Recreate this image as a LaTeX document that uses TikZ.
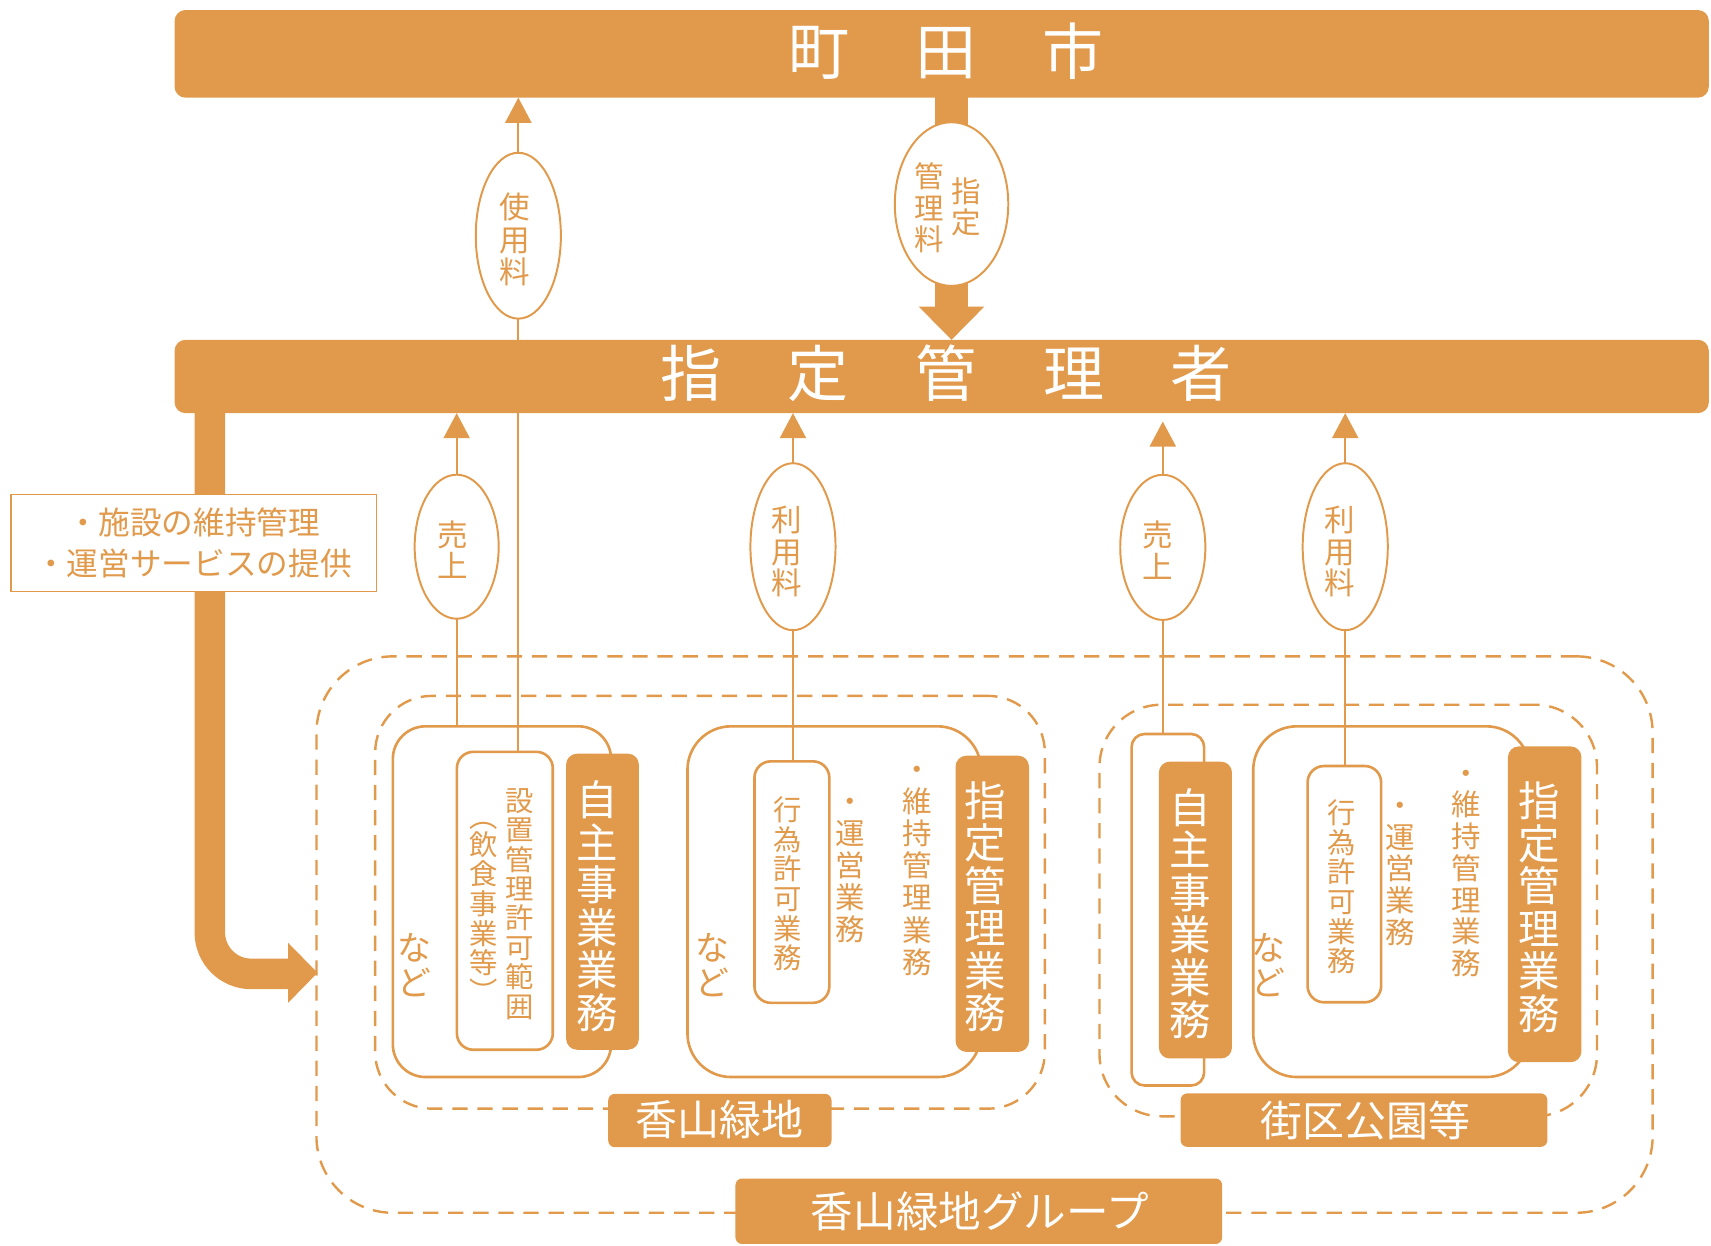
\documentclass[tikz,border=0pt]{standalone}
\usepackage{fontspec}
\setmainfont{Noto Sans CJK JP}
\usetikzlibrary{arrows.meta,shapes.geometric}
\definecolor{orng}{RGB}{225,154,75}
\newcommand\setfs[2]{\fontsize{#1}{#2}\selectfont}
\makeatletter
\def\vt@stop{\vt@stop}
\newcommand\VT[2]{\vbox{\baselineskip=#1\relax\lineskiplimit=-\maxdimen\lineskip=0pt\relax\vt@loop#2\vt@stop}}
\def\vt@loop#1{\ifx#1\vt@stop\else\hbox to 1em{\hss\raisebox{0pt}[0.88em][0.12em]{#1}\hss}\expandafter\vt@loop\fi}
\makeatother
\begin{document}
\begin{tikzpicture}[x=1pt,y=-1pt,
  barbox/.style={fill=orng, rounded corners=10pt, inner sep=0pt, outer sep=0pt},
  dbox/.style={draw=orng, line width=2.2pt, dash pattern=on 14pt off 9pt, inner sep=0pt, outer sep=0pt},
  sbox/.style={draw=orng, line width=2.4pt, fill=white, inner sep=0pt, outer sep=0pt},
  obox/.style={fill=orng, rounded corners=10pt, inner sep=0pt, outer sep=0pt},
  lbox/.style={fill=orng, rounded corners=6pt, inner sep=0pt, outer sep=0pt},
  oval/.style={ellipse, draw=orng, line width=1.8pt, fill=white, inner sep=0pt, outer sep=0pt},
  otxt/.style={text=orng, inner sep=0pt},
  wtxt/.style={text=white, inner sep=0pt},
  conn/.style={draw=orng, line width=1.6pt},
  uptip/.style={-{Triangle[width=24pt,length=23pt]}},
]
\useasboundingbox (0,0) rectangle (1568,1141);

% dashed group boxes
\node[dbox, rounded corners=70pt, minimum width=1224.5pt, minimum height=509.9pt] (grp) at (902.25,856.45) {};
\node[dbox, rounded corners=52pt, minimum width=613.7pt, minimum height=378.3pt] (kayama) at (650.65,826.85) {};
\node[dbox, rounded corners=57pt, minimum width=455.9pt, minimum height=377.2pt] (gaiku) at (1235.55,834.4) {};

% bars
\node[barbox, minimum width=1406pt, minimum height=80.3pt] (city) at (863,49.35) {};
\node[barbox, minimum width=1406pt, minimum height=67.2pt] (mgr) at (863,345) {};
\node[wtxt, font=\setfs{56}{56}] (cityT) at (867,47) {町\hskip60.5pt 田\hskip60.5pt 市};
\node[wtxt, font=\setfs{56}{56}] (mgrT) at (867,342) {指\hskip61pt 定\hskip61pt 管\hskip61pt 理\hskip61pt 者};

% outer solid boxes
\node[sbox, rounded corners=30pt, minimum width=200pt, minimum height=321.4pt] (jishu1) at (460,826.3) {};
\node[sbox, rounded corners=40pt, minimum width=269pt, minimum height=321.4pt] (shitei1) at (764.5,826.3) {};
\node[sbox, rounded corners=12pt, minimum width=66.5pt, minimum height=322.2pt] (jishu2) at (1070.25,833.7) {};
\node[sbox, rounded corners=40pt, minimum width=253.5pt, minimum height=321.4pt] (shitei2) at (1275.25,826.3) {};

% inner boxes
\node[sbox, rounded corners=15pt, minimum width=87.9pt, minimum height=273pt] (secchi) at (462.65,825.5) {};
\node[sbox, rounded corners=15pt, minimum width=68.6pt, minimum height=221.3pt] (koui1) at (725.7,808.35) {};
\node[sbox, rounded corners=15pt, minimum width=67.4pt, minimum height=216.5pt] (koui2) at (1232,810.25) {};

% orange boxes
\node[obox, minimum width=66.7pt, minimum height=271.3pt] (oj1) at (552.15,826.35) {};
\node[obox, minimum width=67.3pt, minimum height=271.5pt] (os1) at (909.35,828.25) {};
\node[obox, minimum width=67pt, minimum height=272pt] (oj2) at (1095.5,834) {};
\node[obox, minimum width=67.4pt, minimum height=289.4pt] (os2) at (1415.6,828.7) {};

% labels
\node[lbox, minimum width=204.6pt, minimum height=48.9pt] (lk) at (659.7,1026.85) {};
\node[lbox, minimum width=336pt, minimum height=49pt] (lg) at (1250,1026.5) {};
\node[lbox, minimum width=446pt, minimum height=60pt] (lgrp) at (897,1110) {};
\node[wtxt, font=\setfs{38.5}{38.5}] (lkT) at (659.3,1026) {香山緑地};
\node[wtxt, font=\setfs{38.5}{38.5}] (lgT) at (1251,1026.5) {街区公園等};
\node[wtxt, font=\setfs{39}{39}] (lgrpT) at (898,1110.5) {香山緑地グループ};

% ellipses
\node[oval, minimum width=78pt, minimum height=152pt] (e_shiyou) at (475,216) {};
\node[oval, minimum width=77pt, minimum height=132pt] (e_uri1) at (418.5,501) {};
\node[oval, minimum width=78pt, minimum height=153pt] (e_riyo1) at (726.7,501) {};
\node[oval, minimum width=78pt, minimum height=133pt] (e_uri2) at (1065.6,501.6) {};
\node[oval, minimum width=78pt, minimum height=153pt] (e_riyo2) at (1232.8,501) {};

% top thick arrow (designated management fee)
\draw[orng, line width=30pt] (872,85) -- (872,283);
\fill[orng] (842,281) -- (902,281) -- (872,311.4) -- cycle;
\node[oval, minimum width=104pt, minimum height=150pt] (e_shitei) at (872,187) {};

% thin connectors
\draw[conn] (e_shiyou.south) -- (e_shiyou.south |- secchi.north);
\draw[conn, uptip] (e_shiyou.north) -- (e_shiyou.north |- city.south);
\draw[conn] (e_uri1.south) -- (e_uri1.south |- jishu1.north);
\draw[conn, uptip] (e_uri1.north) -- (e_uri1.north |- mgr.south);
\draw[conn] (e_riyo1.south) -- (e_riyo1.south |- koui1.north);
\draw[conn, uptip] (e_riyo1.north) -- (e_riyo1.north |- mgr.south);
\coordinate (u2tip) at (1065.6,386.3);
\draw[conn] (e_uri2.south) -- (e_uri2.south |- jishu2.north);
\draw[conn, uptip] (e_uri2.north) -- (u2tip);
\draw[conn] (e_riyo2.south) -- (e_riyo2.south |- koui2.north);
\draw[conn, uptip] (e_riyo2.north) -- (e_riyo2.north |- mgr.south);

% left thick arrow
\draw[orng, line width=28pt, rounded corners=38pt] (192.3,372) |- (266,892.5);
\fill[orng] (264,864) -- (291,891.5) -- (264,919) -- cycle;
\node[draw=orng, line width=1.5pt, fill=white, inner sep=0pt, minimum width=335.2pt, minimum height=89pt] (tbox) at (177.4,497.5) {};
\node[otxt, align=center, font=\setfs{29}{37}] (tboxT) at (177.4,497.5) {・施設の維持管理\\・運営サービスの提供};

% ellipse texts
\node[otxt, font=\setfs{28}{28}] (t_shiyou) at (471.5,219.5) {\VT{29.5pt}{使用料}};
\node[otxt, font=\setfs{27}{27}] (t_shitei_a) at (885.5,189.5) {\VT{29pt}{指定}};
\node[otxt, font=\setfs{27}{27}] (t_shitei_b) at (851.5,190.5) {\VT{29pt}{管理料}};
\node[otxt, font=\setfs{28}{28}] (t_uri1) at (414.5,504.5) {\VT{29pt}{売上}};
\node[otxt, font=\setfs{28}{28}] (t_riyo1) at (720.6,505.3) {\VT{29pt}{利用料}};
\node[otxt, font=\setfs{28}{28}] (t_uri2) at (1061.3,504.6) {\VT{29pt}{売上}};
\node[otxt, font=\setfs{28}{28}] (t_riyo2) at (1228,505.3) {\VT{29pt}{利用料}};

% box texts
\node[wtxt, font=\setfs{38}{38}] (w_j1) at (547.5,830.5) {\VT{39pt}{自主事業業務}};
\node[wtxt, font=\setfs{38}{38}] (w_s1) at (903,831) {\VT{39pt}{指定管理業務}};
\node[wtxt, font=\setfs{38}{38}] (w_j2) at (1090.7,837.3) {\VT{39pt}{自主事業業務}};
\node[wtxt, font=\setfs{38}{38}] (w_s2) at (1410.7,831.3) {\VT{39pt}{指定管理業務}};

\node[otxt, font=\setfs{26}{26}] (t_secchi) at (476,828) {\VT{26.9pt}{設置管理許可範囲}};
\node[otxt, font=\setfs{26}{26}] (t_inshoku) at (443,828.2) {\VT{27.2pt}{飲食事業等}};
\node[otxt, font=\setfs{26}{26}] (t_pl) at (443,757) {︵};
\node[otxt, font=\setfs{26}{26}] (t_pr) at (443,908) {︶};
\node[otxt, font=\setfs{26}{26}] (t_koui1) at (722,810) {\VT{27.2pt}{行為許可業務}};
\node[otxt, font=\setfs{27}{27}] (t_unei1) at (779,793) {\VT{29.5pt}{・運営業務}};
\node[otxt, font=\setfs{27}{27}] (t_iji1) at (840.7,793.3) {\VT{29.4pt}{・維持管理業務}};
\node[otxt, font=\setfs{26}{26}] (t_koui2) at (1229.6,812.7) {\VT{27.2pt}{行為許可業務}};
\node[otxt, font=\setfs{27}{27}] (t_unei2) at (1283,796) {\VT{29pt}{・運営業務}};
\node[otxt, font=\setfs{27}{27}] (t_iji2) at (1343.8,795.7) {\VT{29.1pt}{・維持管理業務}};
\node[otxt, font=\setfs{31}{31}] (t_nado1) at (380,884.5) {\VT{32pt}{など}};
\node[otxt, font=\setfs{31}{31}] (t_nado2) at (653,884.5) {\VT{32pt}{など}};
\node[otxt, font=\setfs{31}{31}] (t_nado3) at (1162.4,884.5) {\VT{32pt}{など}};
\end{tikzpicture}
\end{document}
